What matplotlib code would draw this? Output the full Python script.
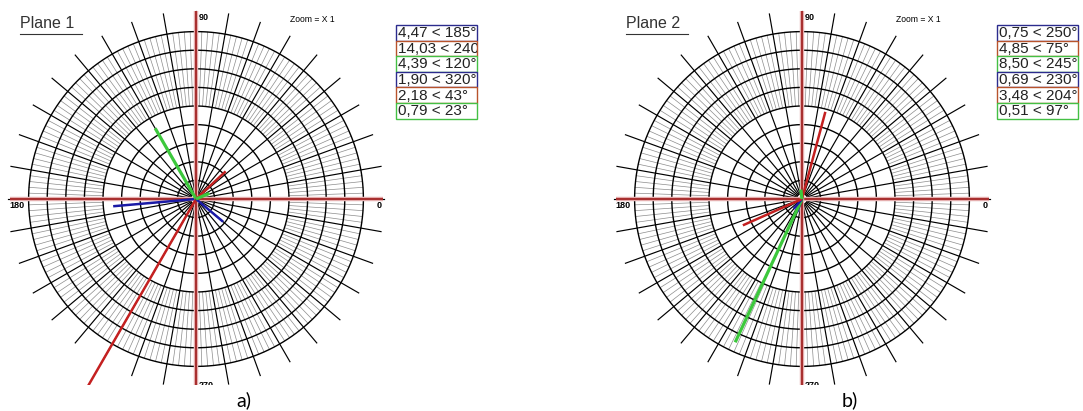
import numpy as np
import matplotlib.pyplot as plt
from matplotlib.patches import Rectangle

# vector magnitude and direction (degrees) for each plane
plane1_mag = [4.47, 14.03, 4.39, 1.90, 2.18, 0.79]
plane1_ang = [185, 240, 120, 320, 43, 23]
plane1_txt = ['4,47 < 185°', '14,03 < 240°', '4,39 < 120°', '1,90 < 320°', '2,18 < 43°', '0,79 < 23°']

plane2_mag = [0.75, 4.85, 8.50, 0.69, 3.48, 0.51]
plane2_ang = [250, 75, 245, 230, 204, 97]
plane2_txt = ['0,75 < 250°', '4,85 < 75°', '8,50 < 245°', '0,69 < 230°', '3,48 < 204°', '0,51 < 97°']

vec_colors = ['#1a1aa6', '#c42020', '#3cc83c', '#1a1aa6', '#c42020', '#3cc83c']
box_colors = ['#2c2c8e', '#b8532c', '#44c044', '#2c2c8e', '#b8532c', '#44c044']

rings = np.arange(1, 10)
spokes = np.arange(0, 360, 10)
minor = [a for a in range(0, 360, 2) if a % 10]

W, H = 1083, 411
PX = 18.6          # pixels per unit
BOTTOM = 385       # lower edge of each plot image

plt.rcParams['font.family'] = ['Liberation Sans', 'DejaVu Sans']
fig = plt.figure(figsize=(W / 100, H / 100), dpi=100)


def draw_plane(cx, cy, x0, x1, title, mags, angs, texts, leg_x):
    ax = fig.add_axes([x0 / W, (H - BOTTOM) / H, (x1 - x0) / W, BOTTOM / H])
    ax.set_xlim((x0 - cx) / PX, (x1 - cx) / PX)
    ax.set_ylim(-(BOTTOM - cy) / PX, cy / PX)
    ax.axis('off')

    def d(px, py):
        return (px - cx) / PX, (cy - py) / PX

    t = np.linspace(0, 2 * np.pi, 400)
    # fine grey hatching in the outer rings
    for a in minor:
        r = np.radians(a)
        ax.plot([5 * np.cos(r), 9 * np.cos(r)], [5 * np.sin(r), 9 * np.sin(r)],
                color='#8c8c8c', lw=0.5, zorder=1)
    for k in rings:
        ax.plot(k * np.cos(t), k * np.sin(t), color='black', lw=1.0, zorder=2)
    ax.plot(0.3 * np.cos(t), 0.3 * np.sin(t), color='black', lw=0.6, zorder=2)
    for a in spokes:
        r = np.radians(a)
        ax.plot([0.3 * np.cos(r), 10.1 * np.cos(r)], [0.3 * np.sin(r), 10.1 * np.sin(r)],
                color='black', lw=0.85, zorder=2)

    # red reference axes
    for xs, ys in [([-10.0, 10.05], [0, 0]), ([0, 0], [-10.6, 10.1])]:
        ax.plot(xs, ys, color='#e8b4b4', lw=3.2, zorder=3, solid_capstyle='butt')
        ax.plot(xs, ys, color='#a83030', lw=1.5, zorder=3, solid_capstyle='butt')

    # vectors
    for m, a, c in zip(mags, angs, vec_colors):
        r = np.radians(a)
        lw = 2.3 if c == '#3cc83c' else 1.8
        ax.plot([0, m * np.cos(r)], [0, m * np.sin(r)], color=c, lw=lw,
                zorder=5, solid_capstyle='butt')

    small = dict(fontsize=6.5, fontweight='bold', va='center', zorder=6)
    ax.text(*d(cx + 3, 18), '90', ha='left', **small)
    ax.text(*d(cx - 187, 206), '180', ha='left', **small)
    ax.text(*d(cx + 181, 206), '0', ha='left', **small)
    ax.text(*d(cx + 3, 386), '270', ha='left', clip_on=True, **small)
    ax.text(*d(cx + 94, 20), 'Zoom = X 1', ha='left', va='center', fontsize=6.2)

    tx, ty = d(cx - 176, 24)
    ax.text(tx, ty, title, ha='left', va='center', fontsize=11.5, color='#333333')
    ux0, uy = d(cx - 176, 34)
    ux1, _ = d(cx - 114, 34)
    ax.plot([ux0, ux1], [uy, uy], color='#333333', lw=0.8)

    # value boxes
    bw, bh = 81, 15.6
    for i, (s, c) in enumerate(zip(texts, box_colors)):
        top = 25 + i * bh
        bx, by = d(leg_x, top + bh)
        rect = Rectangle((bx, by), bw / PX, bh / PX, facecolor='white',
                         edgecolor=c, lw=1.0, zorder=6)
        ax.add_patch(rect)
        txt = ax.text(*d(leg_x + 2, top + bh / 2 + 0.5), s, ha='left', va='center',
                      fontsize=11, color='#222222', zorder=7, clip_on=True)
        txt.set_clip_path(rect)
    return ax


draw_plane(196, 199, 0, 490, 'Plane 1', plane1_mag, plane1_ang, plane1_txt, 396)
draw_plane(802, 199, 600, 1083, 'Plane 2', plane2_mag, plane2_ang, plane2_txt, 997)

fig.text(244 / W, 1 - 400 / H, 'a)', ha='center', va='center', fontsize=14, family='Lato')
fig.text(850 / W, 1 - 400 / H, 'b)', ha='center', va='center', fontsize=14, family='Lato')

fig.savefig('out.png', dpi=100, facecolor='white')
